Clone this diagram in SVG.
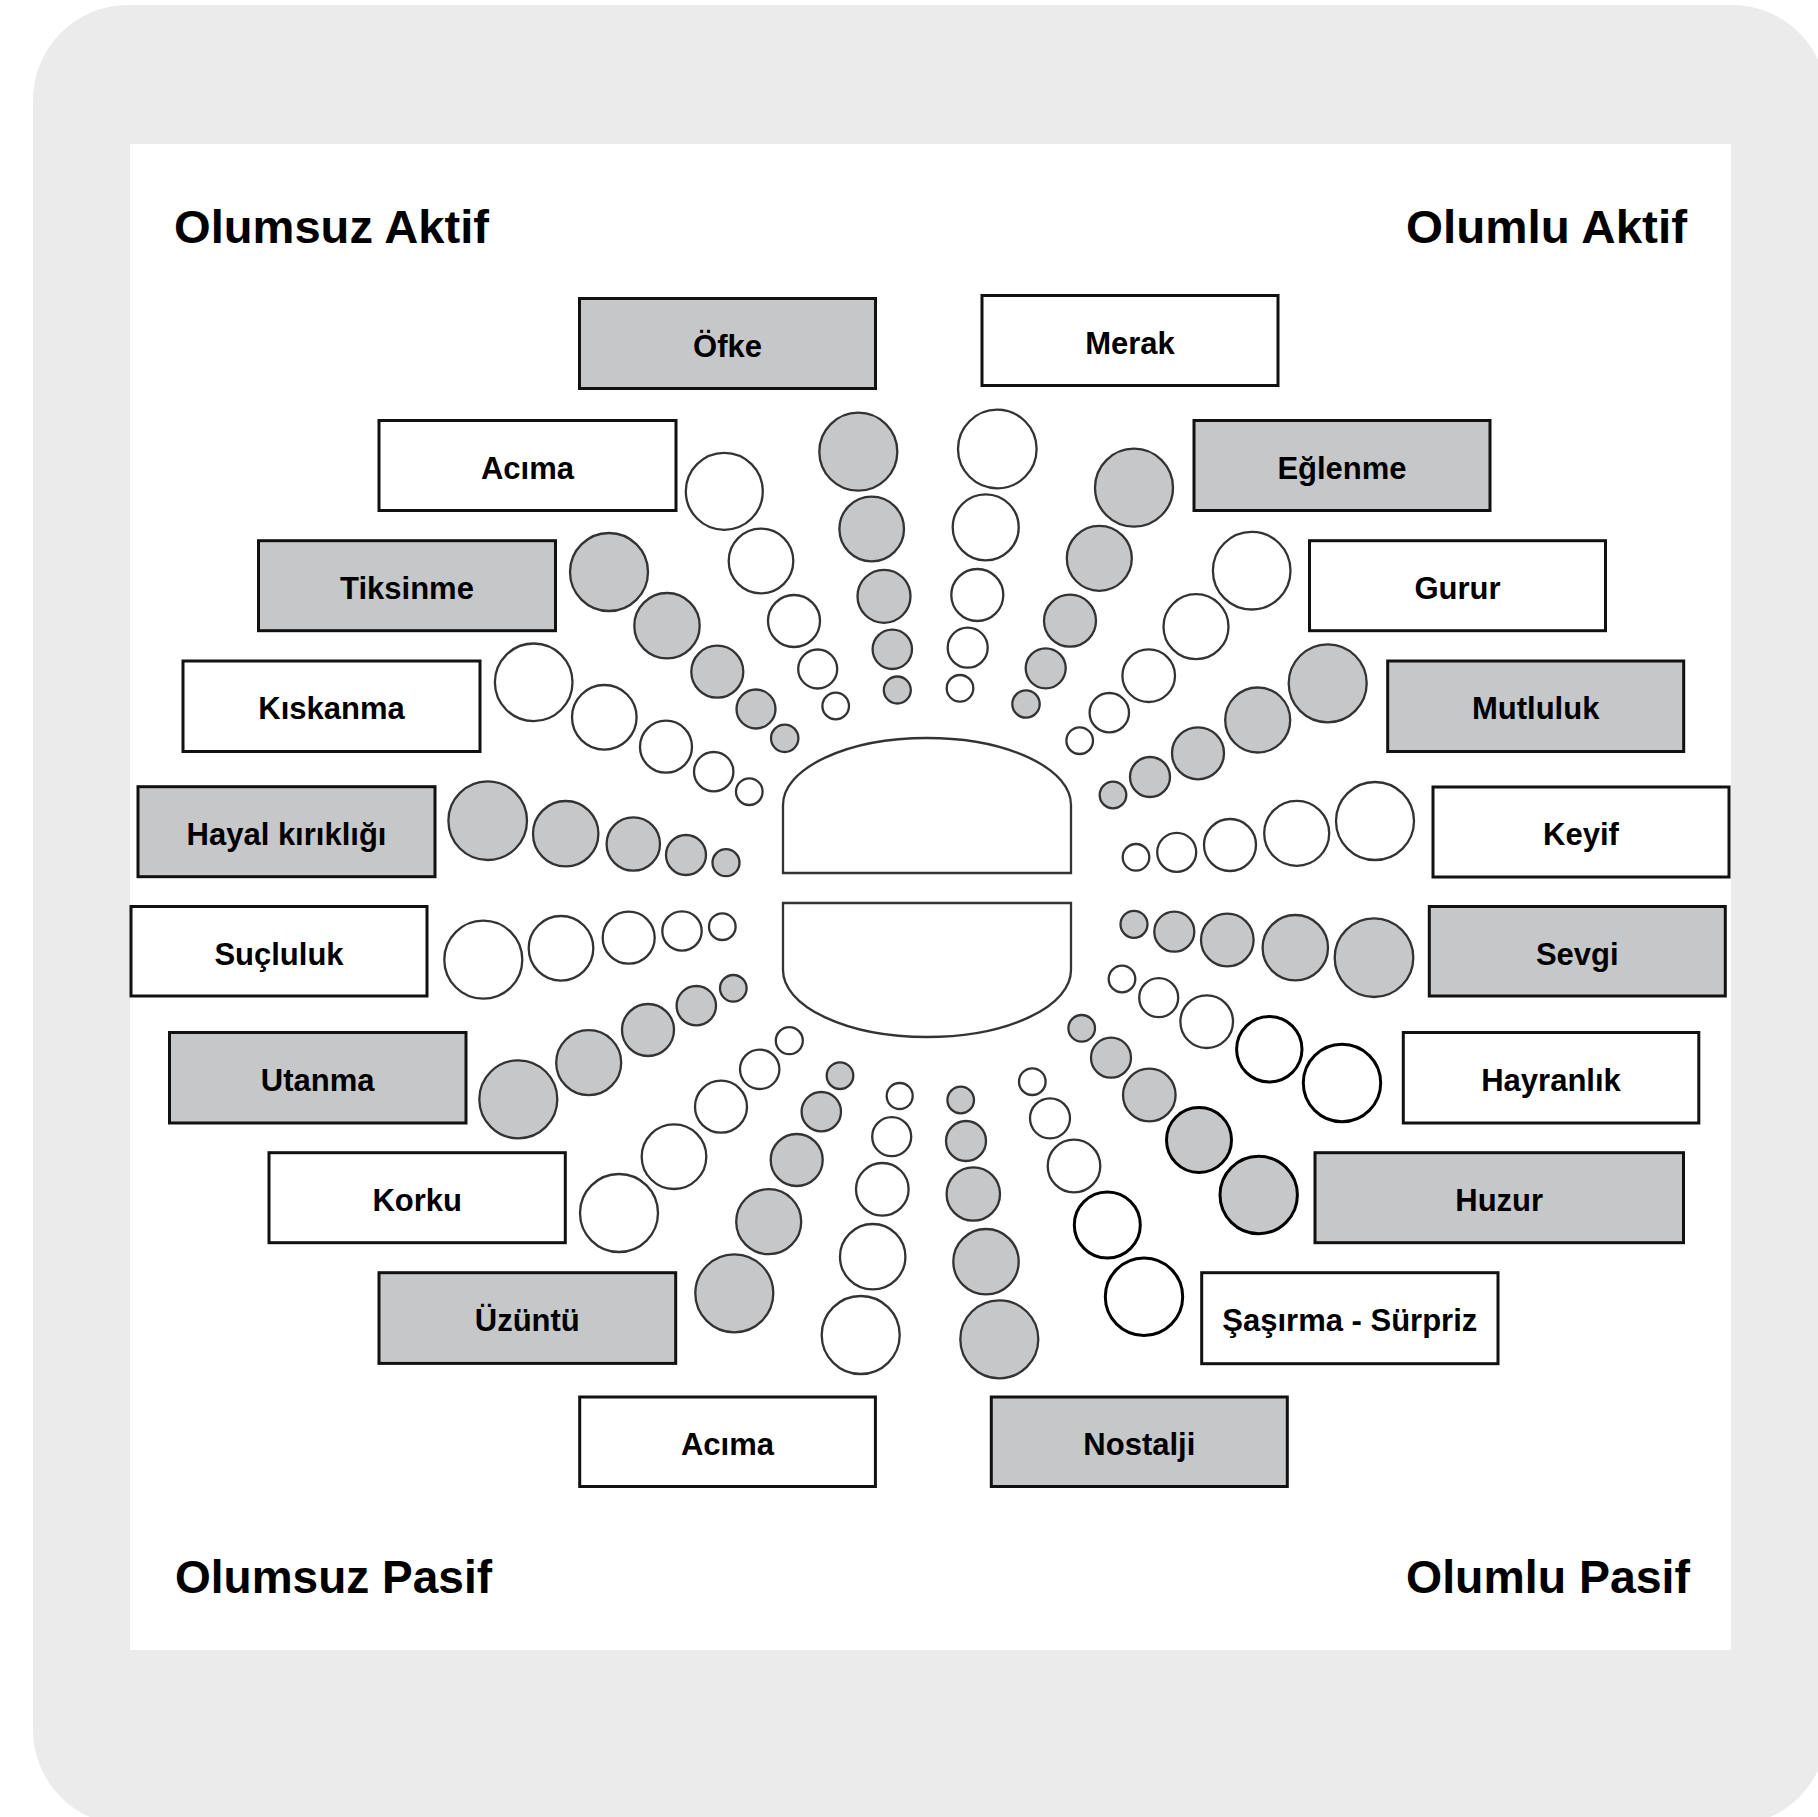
<svg xmlns="http://www.w3.org/2000/svg" width="1818" height="1817" viewBox="0 0 1818 1817">
<style>
.box{stroke:#111;stroke-width:3}
.g{fill:#c6c7c9}
.w{fill:#fff}
.c{stroke:#333;stroke-width:2.3}
.dk{stroke:#000;stroke-width:3}
.lbl{font-family:"Liberation Sans",Arial,sans-serif;font-weight:bold;font-size:31px;text-anchor:middle;fill:#000}
.ttl{font-family:"Liberation Sans",Arial,sans-serif;font-weight:bold;font-size:47px;fill:#000}
.core{fill:#fff;stroke:#333;stroke-width:2.3}
</style>
<rect x="33" y="5" width="1794" height="1820" rx="95" fill="#ebebeb"/>
<rect x="130" y="144" width="1601" height="1506" fill="#fff"/>
<g id="titles">
<text class="ttl" x="174" y="243" textLength="315" lengthAdjust="spacingAndGlyphs">Olumsuz Aktif</text>
<text class="ttl" x="1406" y="243" textLength="281" lengthAdjust="spacingAndGlyphs">Olumlu Aktif</text>
<text class="ttl" x="175" y="1593" textLength="317" lengthAdjust="spacingAndGlyphs">Olumsuz Pasif</text>
<text class="ttl" x="1406" y="1593" textLength="284" lengthAdjust="spacingAndGlyphs">Olumlu Pasif</text>
</g>
<g id="center">
<path class="core" d="M783,873 V805 A144,67 0 0 1 1071,805 V873 Z"/>
<path class="core" d="M783,903 H1071 V970 A144,67 0 0 1 783,970 Z"/>
</g>
<g id="connectors">
<g id="ray-ofke" class="g c">
<circle cx="858.3" cy="451.7" r="39"/><circle cx="871.7" cy="529" r="32.3"/><circle cx="884" cy="596.3" r="26.5"/><circle cx="892.3" cy="649.3" r="19.7"/><circle cx="897.3" cy="690" r="13.5"/>
</g>
<g id="ray-acima1" class="w c">
<circle cx="724.3" cy="491.3" r="38.5"/><circle cx="761" cy="561" r="32.3"/><circle cx="794" cy="621" r="26"/><circle cx="817.7" cy="669" r="19.5"/><circle cx="835.7" cy="706" r="13.3"/>
</g>
<g id="ray-tiksinme" class="g c">
<circle cx="609" cy="572" r="39"/><circle cx="667" cy="625.7" r="32.7"/><circle cx="717.3" cy="671.7" r="26"/><circle cx="756" cy="709" r="19.5"/><circle cx="784.7" cy="738.3" r="13.7"/>
</g>
<g id="ray-kiskanma" class="w c">
<circle cx="533.7" cy="682.3" r="38.8"/><circle cx="604.3" cy="717.3" r="32.3"/><circle cx="666" cy="746.7" r="26"/><circle cx="713.7" cy="771.7" r="19.7"/><circle cx="749.3" cy="791.7" r="13.3"/>
</g>
<g id="ray-hayal" class="g c">
<circle cx="487.7" cy="820.7" r="39.3"/><circle cx="565.7" cy="833.7" r="32.7"/><circle cx="633.3" cy="844" r="26.7"/><circle cx="686" cy="855" r="20"/><circle cx="726" cy="862.7" r="13.5"/>
</g>
<g id="ray-merak" class="w c">
<circle cx="997.3" cy="449" r="39.3"/><circle cx="985.7" cy="527.3" r="33"/><circle cx="977.3" cy="595" r="26"/><circle cx="967.7" cy="647.7" r="20"/><circle cx="960" cy="688.3" r="13.3"/>
</g>
<g id="ray-eglenme" class="g c">
<circle cx="1134" cy="487.7" r="39"/><circle cx="1099.3" cy="558.3" r="32.5"/><circle cx="1070" cy="620.7" r="26"/><circle cx="1045.7" cy="668.3" r="20"/><circle cx="1026" cy="704" r="13.7"/>
</g>
<g id="ray-gurur" class="w c">
<circle cx="1251.7" cy="570.7" r="38.8"/><circle cx="1196" cy="626.7" r="32.5"/><circle cx="1148.7" cy="675.7" r="26.3"/><circle cx="1109.3" cy="712.7" r="19.7"/><circle cx="1079.7" cy="740.7" r="13.3"/>
</g>
<g id="ray-mutluluk" class="g c">
<circle cx="1327.7" cy="683.3" r="39"/><circle cx="1257.7" cy="720" r="32.5"/><circle cx="1198" cy="753.3" r="26"/><circle cx="1150" cy="777" r="20"/><circle cx="1113" cy="795" r="13.3"/>
</g>
<g id="ray-keyif" class="w c">
<circle cx="1375" cy="821" r="39"/><circle cx="1296.7" cy="833.3" r="32.5"/><circle cx="1230" cy="845" r="26"/><circle cx="1176.7" cy="852.3" r="19.5"/><circle cx="1136" cy="857.3" r="13.3"/>
</g>
<g id="ray-sucluluk" class="w c">
<circle cx="483.3" cy="959.7" r="39"/><circle cx="561" cy="948.3" r="32.3"/><circle cx="628.7" cy="937.7" r="26"/><circle cx="682" cy="931" r="19.7"/><circle cx="722.3" cy="926.7" r="13.3"/>
</g>
<g id="ray-utanma" class="g c">
<circle cx="518.3" cy="1099.3" r="39"/><circle cx="588.7" cy="1062.7" r="32.5"/><circle cx="648" cy="1030" r="26"/><circle cx="696.3" cy="1005.7" r="19.7"/><circle cx="733.3" cy="988.3" r="13.3"/>
</g>
<g id="ray-korku" class="w c">
<circle cx="619" cy="1213" r="39"/><circle cx="674" cy="1156.7" r="32.3"/><circle cx="721" cy="1106.7" r="26"/><circle cx="759.7" cy="1069.3" r="19.7"/><circle cx="789.3" cy="1040.7" r="13.5"/>
</g>
<g id="ray-uzuntu" class="g c">
<circle cx="734.3" cy="1293.3" r="39"/><circle cx="768.7" cy="1221.7" r="32.5"/><circle cx="796.7" cy="1160" r="26"/><circle cx="821.3" cy="1111.7" r="19.7"/><circle cx="840" cy="1075.7" r="13.3"/>
</g>
<g id="ray-acima2" class="w c">
<circle cx="860.7" cy="1335" r="39"/><circle cx="872.7" cy="1256.7" r="32.7"/><circle cx="882.3" cy="1189.3" r="26.3"/><circle cx="891.7" cy="1136.7" r="19.5"/><circle cx="899.7" cy="1096" r="13"/>
</g>
<g id="ray-sevgi" class="g c">
<circle cx="1374" cy="957.7" r="39.3"/><circle cx="1295.3" cy="947.7" r="32.7"/><circle cx="1227.3" cy="940" r="26.3"/><circle cx="1174.3" cy="931.7" r="20"/><circle cx="1134" cy="924.3" r="13.5"/>
</g>
<g id="ray-hayranlik" class="w c">
<circle class="dk" cx="1342" cy="1083" r="38.7"/><circle class="dk" cx="1269.3" cy="1049.3" r="32.7"/><circle cx="1206.7" cy="1021.7" r="26.3"/><circle cx="1158.7" cy="997.7" r="19.5"/><circle cx="1122" cy="979" r="13.3"/>
</g>
<g id="ray-huzur" class="g c">
<circle class="dk" cx="1258.7" cy="1195" r="38.7"/><circle class="dk" cx="1199" cy="1140" r="32.5"/><circle cx="1149.3" cy="1095" r="26.3"/><circle cx="1111" cy="1057.7" r="20"/><circle cx="1081.7" cy="1028.3" r="13.3"/>
</g>
<g id="ray-sasirma" class="w c">
<circle class="dk" cx="1144" cy="1296.7" r="38.7"/><circle class="dk" cx="1107.3" cy="1225" r="33"/><circle cx="1074" cy="1166" r="26.3"/><circle cx="1050" cy="1118.3" r="20"/><circle cx="1032.3" cy="1081.7" r="13.3"/>
</g>
<g id="ray-nostalji" class="g c">
<circle cx="999.3" cy="1339.3" r="39"/><circle cx="986" cy="1261.7" r="32.7"/><circle cx="973.3" cy="1194" r="26.7"/><circle cx="966" cy="1141" r="20"/><circle cx="960.7" cy="1100" r="13.3"/>
</g>
</g>
<g id="n-ofke"><rect class="box g" x="579.5" y="298.5" width="296" height="90"/><text class="lbl" x="727.5" y="356.5">Öfke</text></g>
<g id="n-merak"><rect class="box w" x="982" y="295.5" width="296" height="90"/><text class="lbl" x="1130" y="353.5">Merak</text></g>
<g id="n-acima1"><rect class="box w" x="379" y="420.5" width="297" height="90"/><text class="lbl" x="527.5" y="478.5">Acıma</text></g>
<g id="n-eglenme"><rect class="box g" x="1194" y="420.5" width="296" height="90"/><text class="lbl" x="1342" y="478.5">Eğlenme</text></g>
<g id="n-tiksinme"><rect class="box g" x="258.5" y="540.7" width="297" height="90"/><text class="lbl" x="407" y="598.7">Tiksinme</text></g>
<g id="n-gurur"><rect class="box w" x="1309.5" y="540.7" width="296" height="90"/><text class="lbl" x="1457.5" y="598.7">Gurur</text></g>
<g id="n-kiskanma"><rect class="box w" x="183" y="661" width="297" height="90.5"/><text class="lbl" x="331.5" y="719">Kıskanma</text></g>
<g id="n-mutluluk"><rect class="box g" x="1387.7" y="661" width="296" height="90.5"/><text class="lbl" x="1535.7" y="719">Mutluluk</text></g>
<g id="n-hayal"><rect class="box g" x="138" y="786.7" width="297" height="90"/><text class="lbl" x="286.5" y="844.7">Hayal kırıklığı</text></g>
<g id="n-keyif"><rect class="box w" x="1433" y="787" width="296" height="90"/><text class="lbl" x="1581" y="845">Keyif</text></g>
<g id="n-sucluluk"><rect class="box w" x="131" y="906.5" width="296" height="89.5"/><text class="lbl" x="279" y="964.5">Suçluluk</text></g>
<g id="n-sevgi"><rect class="box g" x="1429.3" y="906.5" width="296" height="89.5"/><text class="lbl" x="1577.3" y="964.5">Sevgi</text></g>
<g id="n-utanma"><rect class="box g" x="169.5" y="1032.5" width="296.5" height="90.5"/><text class="lbl" x="317.7" y="1090.5">Utanma</text></g>
<g id="n-hayranlik"><rect class="box w" x="1403.3" y="1032.5" width="295.5" height="90.5"/><text class="lbl" x="1551" y="1090.5">Hayranlık</text></g>
<g id="n-korku"><rect class="box w" x="269" y="1152.7" width="296.3" height="90"/><text class="lbl" x="417.2" y="1210.7">Korku</text></g>
<g id="n-huzur"><rect class="box g" x="1315" y="1152.7" width="368.5" height="90"/><text class="lbl" x="1499.2" y="1210.7">Huzur</text></g>
<g id="n-uzuntu"><rect class="box g" x="379" y="1272.7" width="296.7" height="90.7"/><text class="lbl" x="527.3" y="1330.7">Üzüntü</text></g>
<g id="n-sasirma"><rect class="box w" x="1201.7" y="1272.7" width="296.3" height="91"/><text class="lbl" x="1349.8" y="1330.7">Şaşırma - Sürpriz</text></g>
<g id="n-acima2"><rect class="box w" x="579.7" y="1397" width="295.7" height="89.5"/><text class="lbl" x="727.5" y="1455">Acıma</text></g>
<g id="n-nostalji"><rect class="box g" x="991.3" y="1397" width="296" height="89.5"/><text class="lbl" x="1139.3" y="1455">Nostalji</text></g>
</svg>
